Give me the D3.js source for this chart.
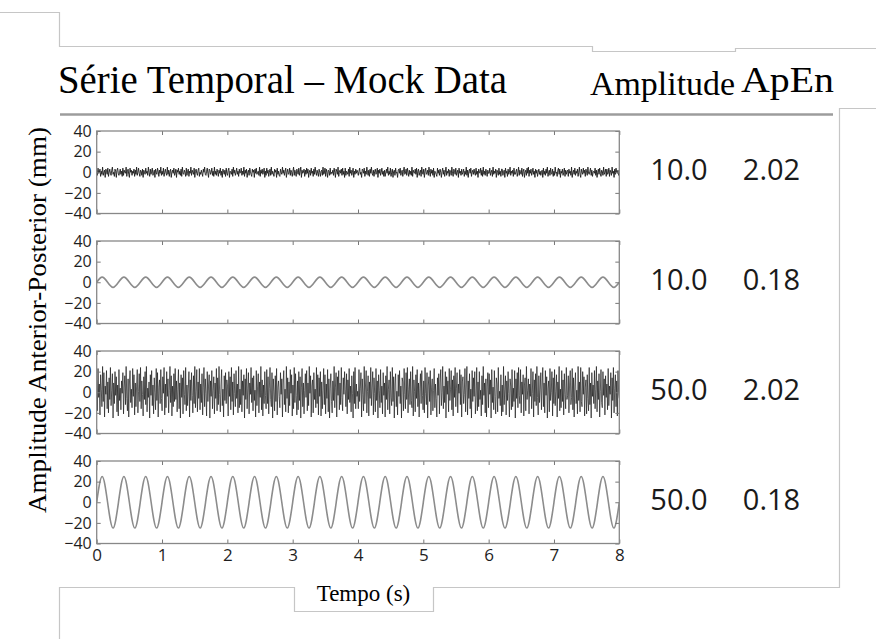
<!DOCTYPE html>
<html lang="pt">
<head>
<meta charset="UTF-8">
<title>Série Temporal – Mock Data</title>
<style>
  body { margin: 0; background: #fff; }
  svg { display: block; }
  .tick text { font-family: "Open Sans", sans-serif; fill: #1e1e1e; }
  .tick line { stroke: #777; }
</style>
</head>
<body>
<div id="chart"></div>
<script src="https://d3js.org/d3.v7.min.js"></script>
<script>
// ---- data ----
const panelNames = ["ruido10", "seno10", "ruido50", "seno50"];
const amplitudes = ["10.0", "10.0", "50.0", "50.0"];
const apen = ["2.02", "0.18", "2.02", "0.18"];
const yTicks = [-40, -20, 0, 20, 40];
const xTicks = [0, 1, 2, 3, 4, 5, 6, 7, 8];
const duration = 8;

// panel 1: small noise (mm)
const ruido10 = [
  2,-3,4,-1,0,3,-4,1,-2,5,-3,0,2,-5,3,1,-2,4,-4,0,
  3,-1,-3,2,5,-2,0,-4,3,1,-5,2,4,-1,-3,0,3,-2,1,-4,
  4,-3,2,0,-1,5,-4,1,3,-2,-5,4,0,2,-3,1,-1,3,-4,2,
  -2,5,-3,0,4,-1,-4,2,1,-3,3,-5,2,0,-2,4,-1,1,-3,5,
  0,-4,3,-2,1,4,-3,-1,2,-5,3,0,-2,4,1,-4,2,-1,5,-3,
  1,-2,4,-4,0,3,-1,-3,5,-2,2,-4,1,3,-5,0,2,-1,4,-3,
  -1,3,-5,2,0,4,-2,1,-3,3,-4,5,-1,-2,2,0,-4,4,-3,1,
  3,-4,1,-1,5,-3,2,0,-2,4,-5,1,3,-1,-3,2,4,-4,0,-2,
  2,-1,-4,3,0,5,-2,-3,1,4,-1,-5,3,2,-2,0,4,-3,1,-4,
  5,-2,1,-3,3,0,-4,2,-1,4,-3,1,-5,3,0,-2,2,-4,4,-1,
  -3,2,4,-5,1,0,-2,3,-4,5,-1,2,-3,0,4,-2,1,-4,3,-1,
  0,4,-3,1,-2,5,-4,2,-1,3,-5,0,2,-3,4,1,-2,-4,3,0,
  2,-5,3,-1,4,-2,0,1,-3,5,-4,2,-1,3,-2,0,4,-5,1,-3,
  4,-1,2,-4,0,3,-3,5,-2,1,-1,-4,3,0,2,-5,4,-2,1,-3,
  -4,3,0,-2,5,-1,2,-3,1,4,-5,0,3,-2,-1,4,-3,2,0,-4,
  1,5,-3,2,-1,-4,3,0,-2,4,-3,1,5,-5,2,-1,0,3,-4,2,
  -2,4,-1,3,-5,0,2,-3,4,-1,1,-4,3,-2,5,0,-3,2,-1,-4,
  3,0,-4,1,2,-3,5,-2,-1,4,-4,3,0,-5,2,1,-3,4,-2,0,
  -1,2,-3,4,0,-5,3,1,-2,5,-4,0,2,-1,3,-3,4,-2,1,-5,
  4,-3,1,0,-2,3,-4,5,-1,2,-3,0,4,-5,1,-2,3,-1,2,0,
  -3,1,4,-2,0,-5,3,2,-1,4,-4,1,-2,5,0,-3,2,-4,3,-1,
  5,-1,-3,2,-4,1,3,-2,0,4,-5,2,-1,3,-3,0,4,-2,1,-4,
  2,-4,0,3,-1,5,-3,1,-2,4,-4,0,3,-5,1,2,-3,4,-1,0,
  -5,2,3,-1,4,-3,0,2,-4,1,5,-2,-1,3,-3,4,0,-4,2,-2,
  1,-3,5,-4,2,0,-1,3,-2,4,-5,1,3,-3,0,2,-4,5,-1,-2,
  3,-5,1,4,-2,-1,2,-3,5,0,-4,3,-1,2,-3,4,-5,1,0,-2,
  -4,4,-1,2,-3,3,0,-5,1,4,-2,2,-4,0,5,-3,1,-1,3,-4,
  2,0,-3,5,-1,-4,3,1,-2,4,-3,0,2,-5,4,-1,1,-3,3,-2,
  0,3,-4,1,-2,5,-3,2,-5,1,3,-1,4,-4,0,2,-2,3,-1,-3,
  4,-2,1,-5,3,0,-1,4,-3,2,-4,5,-2,1,-3,3,0,-4,2,-1,
  -1,4,-3,0,2,-4,5,-2,1,-1,3,-5,2,0,-3,4,-2,1,-4,3,
  3,-3,0,2,-5,4,-1,1,-4,3,-2,0,5,-3,1,-1,2,-4,4,-2,
  -2,1,3,-4,0,5,-3,2,-1,-2,4,-4,1,3,-5,0,2,-3,4,-1,
  5,-4,2,-1,3,-3,0,4,-2,1,-5,3,-1,2,-4,0,3,-2,1,-3,
  0,2,-5,4,-2,1,-3,3,-1,5,-4,0,2,-3,4,-1,-2,3,-4,1,
  -3,5,-1,0,-4,2,4,-2,3,-5,1,-1,3,-3,0,4,-4,2,-2,1,
  2,-4,3,-1,1,-3,5,-5,0,2,-2,4,-3,1,-1,3,-4,0,5,-2,
  -5,3,0,-2,4,-1,2,-4,3,0,-3,5,-1,-2,1,4,-3,2,-4,0,
  1,-1,4,-3,2,-5,0,3,-2,4,-1,-4,2,1,-3,5,-2,0,3,-4,
  3,-2,-1,4,-4,2,0,-3,5,-1,1,-5,3,-2,4,0,-1,2,-3,0
];

// panel 2: slow wave, amplitude 5 mm, samples every quarter cycle
const seno10 = [
  0,5,0,-5, 0,5,0,-5, 0,5,0,-5, 0,5,0,-5, 0,5,0,-5, 0,5,0,-5,
  0,5,0,-5, 0,5,0,-5, 0,5,0,-5, 0,5,0,-5, 0,5,0,-5, 0,5,0,-5,
  0,5,0,-5, 0,5,0,-5, 0,5,0,-5, 0,5,0,-5, 0,5,0,-5, 0,5,0,-5,
  0,5,0,-5, 0,5,0,-5, 0,5,0,-5, 0,5,0,-5, 0,5,0,-5, 0,5,0,-5, 0
];

// panel 3: large noise (mm)
const ruido50 = [
  12,-18,23,-5,8,-22,17,3,-14,25,-9,19,-24,6,-2,21,-16,10,-20,14,
  -7,24,-13,2,18,-25,9,-11,20,-3,15,-19,7,-23,22,-8,4,-17,11,-1,
  19,-21,5,16,-12,25,-6,-18,13,-24,8,21,-10,3,-15,23,-4,17,-22,9,
  -14,6,22,-20,1,18,-9,24,-16,11,-2,-23,15,-7,20,-12,25,-19,4,-5,
  10,-25,17,-3,21,-13,7,-21,14,0,-17,23,-8,19,-24,5,12,-11,22,-6,
  -18,15,-1,24,-22,8,-15,20,-4,13,-20,2,25,-10,16,-23,6,-14,18,-9,
  23,-7,11,-19,3,22,-16,9,-25,17,-5,14,-21,21,-2,-12,24,-18,7,-13,
  4,20,-24,12,-8,19,-3,-20,16,-11,25,-15,1,22,-19,10,-6,23,-17,8,
  -10,18,-22,5,24,-14,13,-1,-23,20,-9,6,17,-25,11,-4,21,-16,2,15,
  -21,9,-6,23,-18,14,-12,25,-2,-19,7,22,-13,3,-24,16,-8,19,-11,12,
  6,-23,20,-4,15,-17,24,-9,10,-22,18,-1,-14,21,-6,8,-20,25,-15,3,
  -12,22,-19,11,-3,17,-25,13,-7,23,-16,4,19,-21,9,-2,24,-10,14,-18,
  16,-8,2,-24,21,-13,6,18,-20,10,-5,25,-17,12,-23,7,-11,20,-3,-16,
  22,-11,15,-21,4,24,-7,-14,19,-25,13,1,-18,16,-9,23,-22,5,11,-4,
  -15,19,-2,13,-24,8,21,-12,3,-19,25,-6,14,-20,10,-13,22,-1,17,-23,
  7,-16,24,-10,18,-3,-22,11,-17,20,-8,15,-25,5,23,-14,9,-21,2,18,
  -5,21,-18,9,-13,25,-1,16,-24,6,12,-20,19,-7,3,-15,24,-11,17,-22,
  14,-4,20,-23,10,-16,2,23,-12,17,-21,8,-6,22,-19,13,-25,4,18,-9,
  -20,11,-8,25,-15,5,19,-24,15,-3,21,-17,9,-12,24,-5,-18,14,-2,20,
  3,-14,18,-21,12,-7,23,-10,6,-19,16,-1,-25,20,-11,24,-16,8,-4,1,
  -16,22,-9,4,19,-24,13,-2,-18,25,-11,7,21,-20,1,16,-23,10,-6,24,
  -13,5,20,-22,14,-1,-19,23,-8,11,-25,17,2,-15,22,-10,6,-21,19,-3,
  9,-24,16,-7,25,-17,3,12,-21,20,-5,-13,24,-9,15,-25,8,18,-14,1,
  -22,17,-4,21,-11,6,-25,14,10,-18,23,-2,-16,19,-7,24,-20,3,13,-12,
  20,-8,-15,25,-23,12,1,-19,17,-6,22,-14,9,-24,4,18,-11,21,-3,-17,
  11,-20,24,-1,-12,19,-25,7,15,-9,21,-22,5,13,-18,2,23,-15,8,-6,
  -24,14,-3,18,-21,9,22,-13,0,25,-16,6,-10,20,-25,15,-2,11,-19,23,
  -8,3,21,-17,12,-23,16,-5,24,-14,4,19,-20,8,-1,22,-12,17,-24,10,
  15,-11,-2,23,-19,7,25,-22,11,-6,18,-16,3,-25,21,-9,14,-4,20,-21,
  -5,24,-18,10,-14,20,-7,2,-23,16,-12,25,-3,9,-20,13,-24,6,19,-15,
  18,-2,12,-25,22,-10,5,-17,21,-4,-21,14,8,-19,24,-6,1,-13,17,-23,
  7,-19,25,-12,3,16,-22,11,-8,20,-1,-24,13,6,-17,22,-14,4,-9,21,
  -25,13,-6,19,-15,24,-3,-11,22,-20,10,-2,17,-23,7,14,-18,25,-7,2,
  13,-21,8,-4,23,-16,-1,20,-24,12,-9,18,-13,25,-5,-22,16,-10,3,19,
  -17,6,24,-14,9,-20,21,-3,15,-25,4,11,-19,23,-8,0,20,-23,14,-11,
  22,-13,1,17,-24,10,-6,25,-18,3,-15,21,-9,12,-22,18,-2,-16,24,-7,
  -3,16,-20,8,21,-12,-5,23,-17,14,-24,6,19,-11,2,-21,25,-8,10,-19,
  24,-9,-14,20,-2,15,-23,5,12,-21,17,-6,-18,24,-12,9,-25,19,-4,7,
  -11,21,-16,3,25,-19,11,-7,18,-24,1,22,-10,-15,20,-3,13,-22,16,-5,
  8,-17,23,-13,6,-2,19,-25,14,-8,24,-20,4,17,-14,11,-23,21,-1,-6
];

// panel 4: slow wave, amplitude 25 mm, samples every quarter cycle
const seno50 = [
  0,25,0,-25, 0,25,0,-25, 0,25,0,-25, 0,25,0,-25, 0,25,0,-25, 0,25,0,-25,
  0,25,0,-25, 0,25,0,-25, 0,25,0,-25, 0,25,0,-25, 0,25,0,-25, 0,25,0,-25,
  0,25,0,-25, 0,25,0,-25, 0,25,0,-25, 0,25,0,-25, 0,25,0,-25, 0,25,0,-25,
  0,25,0,-25, 0,25,0,-25, 0,25,0,-25, 0,25,0,-25, 0,25,0,-25, 0,25,0,-25, 0
];

const series = [ruido10, seno10, ruido50, seno50];
const smooth = [false, true, false, true];

// ---- layout ----
const W = 876, H = 639;
const plotLeft = 96.7, plotRight = 619.3;
const panelTops = [131, 241, 351, 461];
const panelH = 82.5;
const lineColor = "#c6c6c6";
const serif = "'Liberation Serif', 'Times New Roman', serif";

const svg = d3.select("#chart").append("svg")
    .attr("width", W)
    .attr("height", H);

// light page-border lines
const border = svg.append("g")
    .attr("fill", "none")
    .attr("stroke", lineColor)
    .attr("stroke-width", 1.2);
border.append("path").attr("d", "M0,12.5H59.5V46.5H592.5V51.5H735.5V48.5H876");
border.append("path").attr("d", "M876,108.5H839.5V587.5H433.5V611.5H294.5V587.5H59.5V639");

// title row
svg.append("text")
    .attr("x", 58).attr("y", 93)
    .attr("font-family", serif)
    .attr("font-size", 39)
    .attr("textLength", 449).attr("lengthAdjust", "spacingAndGlyphs")
    .text("Série Temporal – Mock Data");

svg.append("text")
    .attr("x", 590).attr("y", 95)
    .attr("font-family", serif)
    .attr("font-size", 34)
    .attr("textLength", 145).attr("lengthAdjust", "spacingAndGlyphs")
    .text("Amplitude");

svg.append("text")
    .attr("x", 741).attr("y", 92)
    .attr("font-family", serif)
    .attr("font-size", 36)
    .attr("textLength", 93).attr("lengthAdjust", "spacingAndGlyphs")
    .text("ApEn");

svg.append("line")
    .attr("x1", 60).attr("x2", 833)
    .attr("y1", 114.5).attr("y2", 114.5)
    .attr("stroke", "#9c9c9c")
    .attr("stroke-width", 2.5);

// shared x scale
const x = d3.scaleLinear().domain([0, duration]).range([plotLeft, plotRight]);

series.forEach((vals, i) => {
    const top = panelTops[i];
    const y = d3.scaleLinear().domain([-40, 40]).range([top + panelH, top]);
    const g = svg.append("g").attr("class", "panel " + panelNames[i]);

    const clipId = "clip" + i;
    g.append("clipPath").attr("id", clipId)
        .append("rect")
        .attr("x", plotLeft).attr("y", top)
        .attr("width", plotRight - plotLeft).attr("height", panelH);

    const pts = vals.map((v, k) => ({t: k * duration / (vals.length - 1), v: v}));

    const line = d3.line()
        .x(d => x(d.t))
        .y(d => y(d.v))
        .curve(smooth[i] ? d3.curveNatural : d3.curveLinear);

    g.append("path")
        .datum(pts)
        .attr("clip-path", `url(#${clipId})`)
        .attr("fill", "none")
        .attr("stroke", smooth[i] ? "#8c8c8c" : "#1c1c1c")
        .attr("stroke-width", smooth[i] ? 1.6 : (i === 0 ? 0.9 : 0.7))
        .attr("stroke-linejoin", "round")
        .attr("d", line);

    // inward ticks on all four sides
    const left = g.append("g")
        .attr("transform", `translate(${plotLeft},0)`)
        .call(d3.axisLeft(y).tickValues(yTicks).tickSize(-4).tickPadding(5));
    left.selectAll("text").attr("font-size", 16);

    g.append("g")
        .attr("transform", `translate(${plotRight},0)`)
        .call(d3.axisRight(y).tickValues(yTicks).tickSize(-4).tickFormat(""));

    g.append("g")
        .attr("transform", `translate(0,${top})`)
        .call(d3.axisTop(x).tickValues(xTicks).tickSize(-4).tickFormat(""));

    const bottom = g.append("g")
        .attr("transform", `translate(0,${top + panelH})`)
        .call(d3.axisBottom(x).tickValues(xTicks).tickSize(-4).tickPadding(5)
            .tickFormat(i === series.length - 1 ? d3.format("d") : ""));
    bottom.selectAll("text").attr("font-size", 17);

    g.selectAll(".domain").remove();

    g.append("rect")
        .attr("x", plotLeft).attr("y", top)
        .attr("width", plotRight - plotLeft).attr("height", panelH)
        .attr("fill", "none")
        .attr("stroke", "#888")
        .attr("stroke-width", 1.3);

    // amplitude and ApEn columns
    const cy = top + panelH / 2 + 8;
    g.append("text")
        .attr("x", 679).attr("y", cy)
        .attr("text-anchor", "middle")
        .attr("font-family", "'Open Sans', sans-serif")
        .attr("font-size", 29)
        .attr("fill", "#1a1a1a")
        .text(amplitudes[i]);
    g.append("text")
        .attr("x", 771.5).attr("y", cy)
        .attr("text-anchor", "middle")
        .attr("font-family", "'Open Sans', sans-serif")
        .attr("font-size", 29)
        .attr("fill", "#1a1a1a")
        .text(apen[i]);
});

// axis titles
svg.append("text")
    .attr("transform", "translate(46,320) rotate(-90)")
    .attr("text-anchor", "middle")
    .attr("font-family", serif)
    .attr("font-size", 25)
    .attr("textLength", 386).attr("lengthAdjust", "spacingAndGlyphs")
    .text("Amplitude Anterior-Posterior (mm)");

svg.append("text")
    .attr("x", 363.5).attr("y", 601)
    .attr("text-anchor", "middle")
    .attr("font-family", serif)
    .attr("font-size", 23)
    .text("Tempo (s)");
</script>
</body>
</html>
